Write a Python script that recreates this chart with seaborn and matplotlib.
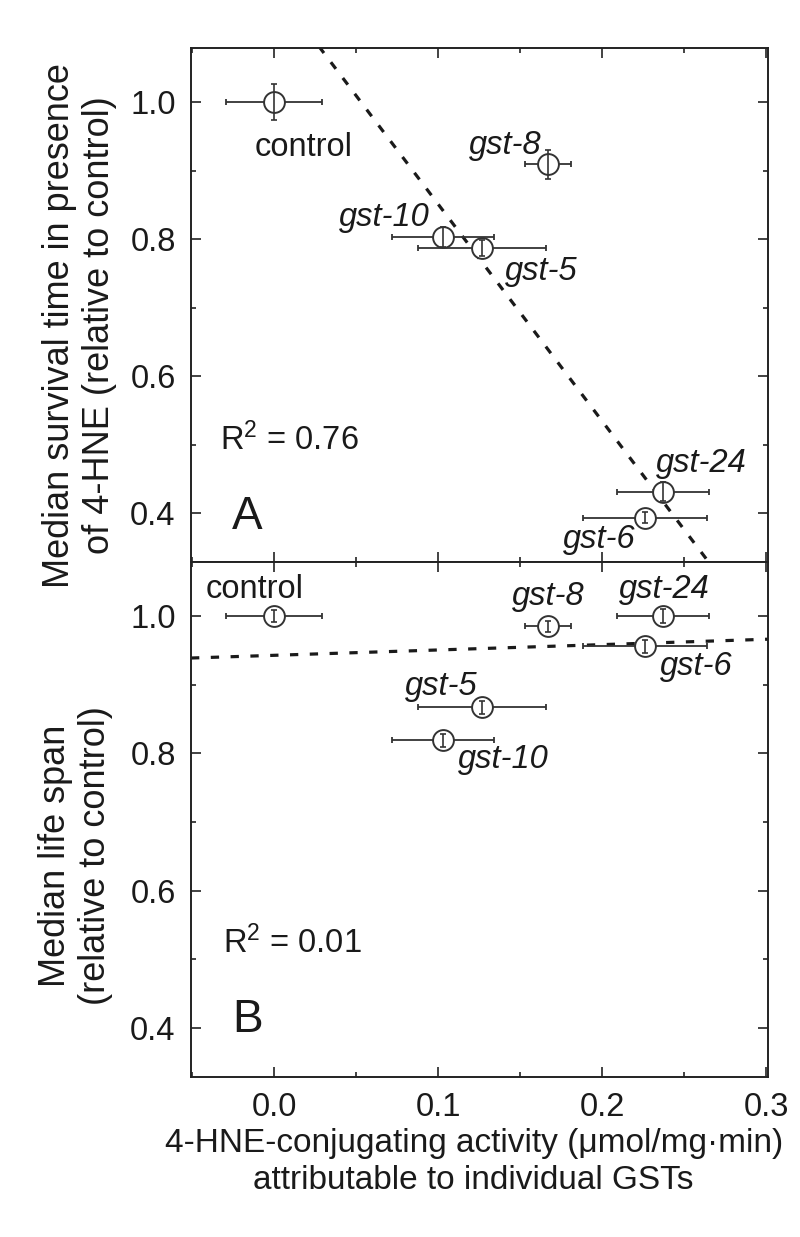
import numpy as np
import pandas as pd
import matplotlib
matplotlib.use("Agg")
import matplotlib.pyplot as plt
import seaborn as sns
from matplotlib.ticker import MultipleLocator, FormatStrFormatter

# ---------------- data ----------------
strains = ["control", "gst-8", "gst-10", "gst-5", "gst-24", "gst-6"]
activity = [0.0, 0.167, 0.103, 0.127, 0.237, 0.226]
activity_err = [0.029, 0.014, 0.031, 0.039, 0.028, 0.038]
survival = [1.0, 0.909, 0.803, 0.787, 0.431, 0.393]
survival_err = [0.026, 0.021, 0.015, 0.012, 0.014, 0.008]
lifespan = [1.0, 0.985, 0.819, 0.867, 1.0, 0.956]
lifespan_err = [0.009, 0.008, 0.009, 0.010, 0.010, 0.010]
fit_slope = [-3.17, 0.078]
fit_intercept = [1.168, 0.943]
r_squared = ["0.76", "0.01"]
panel_letters = ["A", "B"]
x_ticks = [0.0, 0.1, 0.2, 0.3]
y_ticks = [0.4, 0.6, 0.8, 1.0]

df = pd.DataFrame({"strain": strains, "activity": activity, "activity_err": activity_err,
                   "survival": survival, "survival_err": survival_err,
                   "lifespan": lifespan, "lifespan_err": lifespan_err})

# ---------------- style ----------------
sns.set_theme(style="ticks")
plt.rcParams["font.family"] = ["Liberation Sans", "DejaVu Sans"]
plt.rcParams["mathtext.fontset"] = "custom"
plt.rcParams["mathtext.rm"] = "Liberation Sans"
plt.rcParams["mathtext.it"] = "Liberation Sans:italic"

INK = "#1a1a1a"
BAR = "#333333"
FS = 23.5

fig = plt.figure(figsize=(8, 12.37), dpi=100)
axA = fig.add_axes([0.23875, 0.54568, 0.72125, 0.41552])
axB = fig.add_axes([0.23875, 0.12935, 0.72125, 0.41633], sharex=axA)

# label layout: (x, y, ha) in data coords per panel
labels_A = {"control": (0.018, 0.934, "center"), "gst-8": (0.163, 0.937, "right"),
            "gst-10": (0.095, 0.831, "right"), "gst-5": (0.141, 0.752, "left"),
            "gst-24": (0.233, 0.473, "left"), "gst-6": (0.220, 0.361, "right")}
labels_B = {"control": (-0.0415, 1.039, "left"), "gst-8": (0.167, 1.029, "center"),
            "gst-24": (0.238, 1.039, "center"), "gst-6": (0.235, 0.927, "left"),
            "gst-5": (0.124, 0.898, "right"), "gst-10": (0.112, 0.791, "left")}

panels = [
    (axA, "survival", "survival_err", labels_A, (-0.033, 0.507), (-0.0256, 0.394),
     "Median survival time in presence\nof 4-HNE (relative to control)", (-0.128, 0.46)),
    (axB, "lifespan", "lifespan_err", labels_B, (-0.031, 0.524), (-0.0256, 0.412),
     "Median life span\n(relative to control)", (-0.135, 0.43)),
]

for i, (ax, ycol, ecol, lbls, r2pos, letpos, ylab, ylabpos) in enumerate(panels):
    ax.set_xlim(-0.0506, 0.301)
    ax.set_ylim(0.3285, 1.079)

    # horizontal error bars (behind markers)
    ax.errorbar(df["activity"], df[ycol], xerr=df["activity_err"], fmt="none",
                ecolor=BAR, elinewidth=1.3, capsize=2.4, capthick=1.3, zorder=2)
    # open circle markers
    sns.scatterplot(data=df, x="activity", y=ycol, ax=ax, marker="o", s=225,
                    facecolor="white", edgecolor=BAR, linewidth=1.4, zorder=3,
                    legend=False)
    # vertical error bars (on top of markers)
    ax.errorbar(df["activity"], df[ycol], yerr=df[ecol], fmt="none",
                ecolor=BAR, elinewidth=1.2, capsize=2.4, capthick=1.2, zorder=4)

    # regression line
    xs = np.array(ax.get_xlim())
    ys = fit_slope[i] * xs + fit_intercept[i]
    sns.lineplot(x=xs, y=ys, ax=ax, color=INK, linewidth=2.3,
                 linestyle=(0, (2.6, 3.6)), dash_capstyle="butt", zorder=1,
                 legend=False)

    for name, (tx, ty, ha) in lbls.items():
        txt = name
        style = "normal" if name == "control" else "italic"
        ax.text(tx, ty, txt, ha=ha, va="center", fontsize=FS, style=style, color=INK,
                zorder=5)

    ax.text(r2pos[0], r2pos[1], r"$\mathregular{R^2}$ = " + r_squared[i], ha="left",
            va="center", fontsize=FS, color=INK)
    ax.text(letpos[0], letpos[1], panel_letters[i], ha="left", va="center",
            fontsize=33, color=INK)

    ax.xaxis.set_major_locator(MultipleLocator(0.1))
    ax.xaxis.set_minor_locator(MultipleLocator(0.05))
    ax.set_yticks(y_ticks)
    ax.yaxis.set_minor_locator(MultipleLocator(0.1))
    ax.yaxis.set_major_formatter(FormatStrFormatter("%.1f"))
    ax.xaxis.set_major_formatter(FormatStrFormatter("%.1f"))

    ax.tick_params(which="both", direction="in", top=True, right=True,
                   width=1.2, color="#222222", labelcolor=INK, labelsize=FS, pad=11)
    ax.tick_params(which="major", length=7)
    ax.tick_params(which="minor", length=3.5)
    for sp in ax.spines.values():
        sp.set_linewidth(1.4)
        sp.set_color("#222222")

    ax.set_ylabel(ylab, fontsize=26, color=INK, linespacing=1.2)
    ax.yaxis.set_label_coords(*ylabpos)
    ax.set_xlabel("")

axA.tick_params(labelbottom=False)
axB.set_xticks(x_ticks)
axB.set_xlabel("4-HNE-conjugating activity (\u03bcmol/mg\u00b7min)\nattributable to individual GSTs",
               fontsize=24, color=INK, linespacing=1.25)
axB.xaxis.set_label_coords(0.49, -0.10)

fig.savefig("out.png", dpi=100, facecolor="white")
